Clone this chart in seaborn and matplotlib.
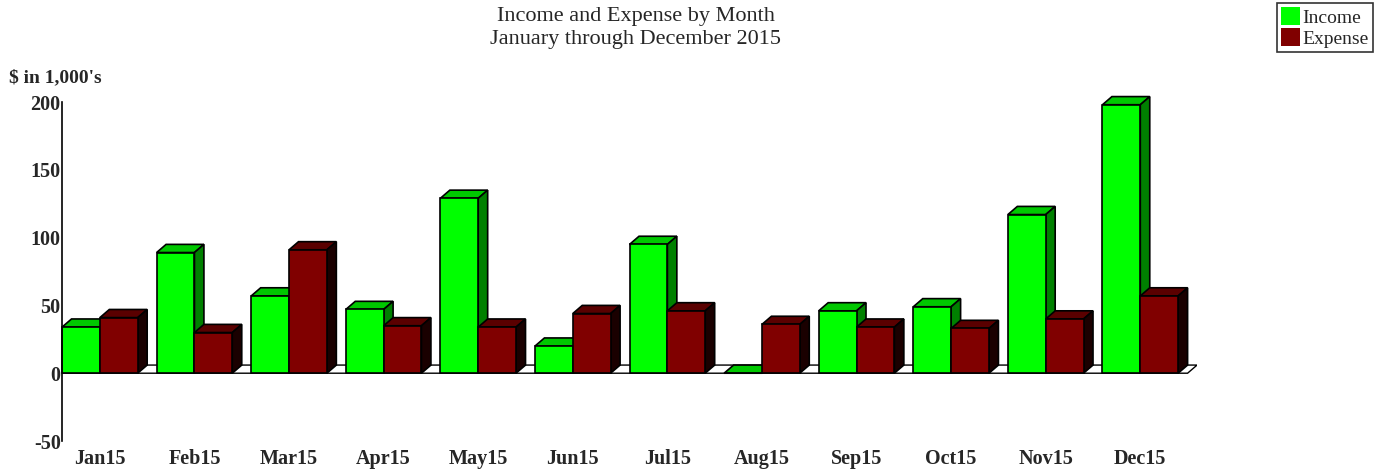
import numpy as np
import pandas as pd
import matplotlib
matplotlib.use("Agg")
import matplotlib.pyplot as plt
import seaborn as sns
from matplotlib.patches import Polygon, Patch

months = ["Jan15", "Feb15", "Mar15", "Apr15", "May15", "Jun15",
          "Jul15", "Aug15", "Sep15", "Oct15", "Nov15", "Dec15"]
income = [34, 89, 57, 47, 129, 20, 95, 0, 46, 49, 117, 198]
expense = [41, 30, 91, 35, 34, 44, 46, 36, 34, 33, 40, 57]
series = ["Income", "Expense"]

# face colours: front, top, side
faces = {
    "Income": ("#00ff00", "#00c800", "#008000"),
    "Expense": ("#800000", "#5a0000", "#1a0000"),
}

df = pd.DataFrame({
    "Month": months * 2,
    "Value": income + expense,
    "Series": ["Income"] * len(months) + ["Expense"] * len(months),
})

sns.set_style("white")
plt.rcParams["font.family"] = ["Liberation Serif", "DejaVu Serif"]
plt.rcParams["axes.unicode_minus"] = False

fig = plt.figure(figsize=(13.85, 4.69), dpi=100)
ax = fig.add_axes([0.0448, 0.0597, 0.8195, 0.7228])

sns.barplot(data=df, x="Month", y="Value", hue="Series", hue_order=series,
            palette={s: faces[s][0] for s in series}, width=0.8, saturation=1,
            edgecolor="black", linewidth=1.2, legend=False, ax=ax)

ax.set_ylim(-50, 200)
ax.set_xlim(-0.4, 11.6)

# pseudo-3D depth, in data units
dx, dy = 0.1, 6.0

# floor at zero
x0, x1 = ax.get_xlim()
floor = Polygon([(x0, 0), (x1 - dx, 0), (x1, dy), (x0 + dx, dy)],
                closed=True, facecolor="white", edgecolor="black",
                linewidth=1.0, zorder=1)
ax.add_patch(floor)

bars = []
for s, cont in zip(series, ax.containers):
    for p in cont.patches:
        bars.append((p.get_x(), s, p))
bars.sort(key=lambda b: b[0])

for k, (_, s, p) in enumerate(bars):
    front, top, side = faces[s]
    x = p.get_x()
    w = p.get_width()
    h = p.get_height()
    base = 2 + k
    p.set_zorder(base + 0.5)
    p.set_clip_on(False)
    top_poly = Polygon([(x, h), (x + w, h), (x + w + dx, h + dy), (x + dx, h + dy)],
                       closed=True, facecolor=top, edgecolor="black",
                       linewidth=1.2, zorder=base, clip_on=False)
    ax.add_patch(top_poly)
    if h > 0:
        side_poly = Polygon([(x + w, 0), (x + w + dx, dy), (x + w + dx, h + dy), (x + w, h)],
                            closed=True, facecolor=side, edgecolor="black",
                            linewidth=1.2, zorder=base, clip_on=False)
        ax.add_patch(side_poly)

ax.set_yticks([-50, 0, 50, 100, 150, 200])
ax.tick_params(axis="y", direction="in", length=3, width=1, labelsize=14.5, pad=1)
ax.tick_params(axis="x", length=0, labelsize=14.5, pad=6)
for lbl in ax.get_xticklabels() + ax.get_yticklabels():
    lbl.set_fontweight("bold")
ax.set_xlabel("")
ax.set_ylabel("")

for sp in ["top", "right", "bottom"]:
    ax.spines[sp].set_visible(False)
ax.spines["left"].set_color("black")
ax.spines["left"].set_linewidth(1.2)

fig.text(0.0065, 0.835, "$ in 1,000's", fontsize=14, fontweight="bold",
         ha="left", va="center")
fig.text(0.459, 0.985, "Income and Expense by Month\nJanuary through December 2015",
         fontsize=16, ha="center", va="top", linespacing=1.3)

handles = [Patch(facecolor=faces[s][0], edgecolor="none") for s in series]
leg = fig.legend(handles, series, loc="upper right", bbox_to_anchor=(0.991, 0.993),
                 fontsize=14, frameon=True, fancybox=False, handlelength=1.0,
                 handleheight=1.0, handletextpad=0.1, borderpad=0.2,
                 labelspacing=0.1, borderaxespad=0)
leg.get_frame().set_edgecolor("black")
leg.get_frame().set_linewidth(1.2)

fig.savefig("out.png", dpi=100, facecolor="white")
